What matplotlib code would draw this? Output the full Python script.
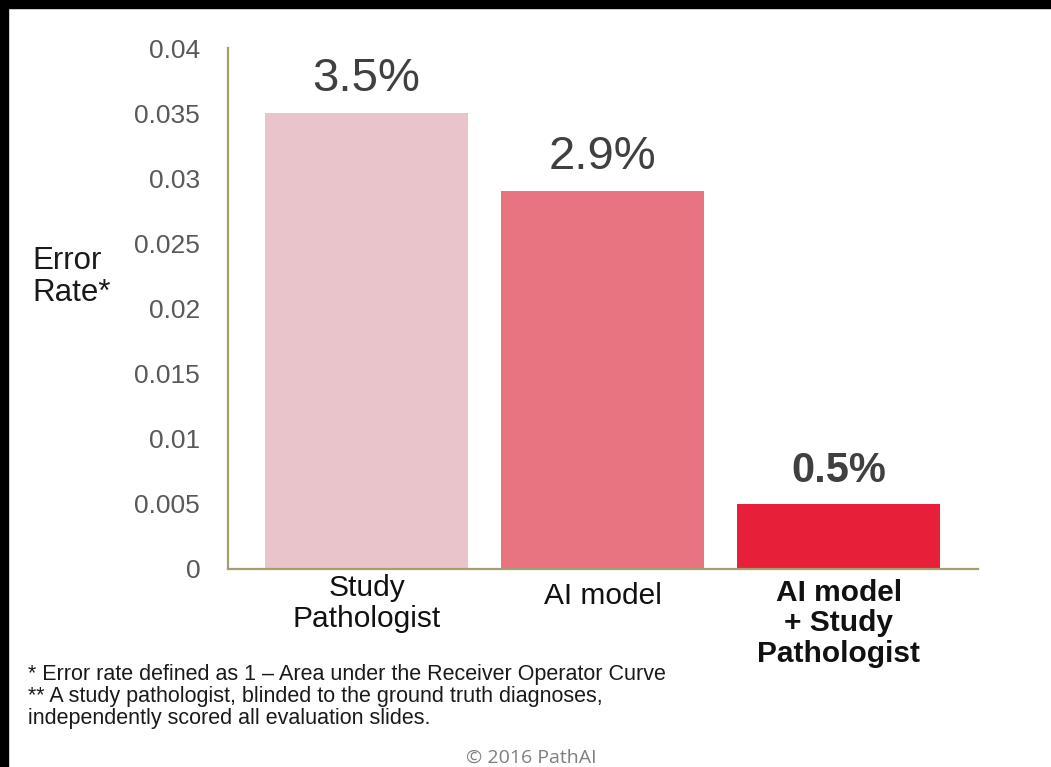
import matplotlib
matplotlib.use("Agg")
import matplotlib.pyplot as plt
import matplotlib.transforms as mtransforms
from matplotlib.patches import Rectangle

plt.rcParams['font.family'] = ['Liberation Sans', 'DejaVu Sans']

# donnees
categories = ['Study\nPathologist', 'AI model', 'AI model\n+ Study\nPathologist']
error_rates = [0.035, 0.029, 0.005]
value_labels = ['3.5%', '2.9%', '0.5%']
bar_colors = ['#E9C5CB', '#E87480', '#E81F38']
y_ticks = [0, 0.005, 0.01, 0.015, 0.02, 0.025, 0.03, 0.035, 0.04]
y_tick_labels = ['0', '0.005', '0.01', '0.015', '0.02', '0.025', '0.03', '0.035', '0.04']

fig = plt.figure(figsize=(10.51, 7.67), dpi=100)
fig.patch.set_facecolor('white')

# bande noire en haut et a gauche
fig.patches.append(Rectangle((0, 1 - 8 / 767), 1, 8 / 767, transform=fig.transFigure,
                             color='black', zorder=0))
fig.patches.append(Rectangle((0, 0), 8 / 1051, 1, transform=fig.transFigure,
                             color='black', zorder=0))

ax = fig.add_axes([228 / 1051, 1 - 569 / 767, 750 / 1051, 521 / 767])

x = list(range(len(categories)))
ax.bar(x, error_rates, width=0.86, color=bar_colors, zorder=2)

ax.set_xlim(-0.587, 2.59)
ax.set_ylim(0, 0.04)

ax.set_yticks(y_ticks)
ax.set_yticklabels(y_tick_labels, fontsize=19, color='#595959')
ax.tick_params(axis='y', length=0, pad=20)
ax.set_xticks([])

for side in ['top', 'right']:
    ax.spines[side].set_visible(False)
for side in ['left', 'bottom']:
    ax.spines[side].set_color('#A69E6C')
    ax.spines[side].set_linewidth(1.6)

# etiquettes de valeur
for i, (v, lab) in enumerate(zip(error_rates, value_labels)):
    bold = (i == 2)
    ax.annotate(lab, (i, v), xytext=(0, 9), textcoords='offset points',
                ha='center', va='bottom', fontsize=34 if not bold else 30,
                color='#404040', fontweight='bold' if bold else 'normal')

# etiquettes des categories
trans = mtransforms.blended_transform_factory(ax.transData, ax.transAxes)
label_y = [-0.0665, -0.0518, -0.1045]
for i, (cat, yy) in enumerate(zip(categories, label_y)):
    bold = (i == 2)
    ax.text(i, yy, cat, transform=trans, ha='center', va='center', fontsize=21.5,
            color='#111111', fontweight='bold' if bold else 'normal',
            linespacing=1.13)

fig.text(32 / 1051, 1 - 277 / 767, 'Error\nRate*', ha='left', va='center',
         fontsize=22.5, color='#1a1a1a', linespacing=1.08)

fig.text(28 / 1051, 1 - 664 / 767,
         '* Error rate defined as 1 \u2013 Area under the Receiver Operator Curve\n'
         '** A study pathologist, blinded to the ground truth diagnoses,\n'
         'independently scored all evaluation slides.',
         ha='left', va='top', fontsize=15.5, color='#1a1a1a', linespacing=1.05,
         family=['Liberation Sans Narrow', 'Liberation Sans'])

fig.text(531 / 1051, 1 - 758 / 767, '\u00a9 2016 PathAI', ha='center', va='center',
         fontsize=14, color='#7f7f7f', family=['Open Sans', 'DejaVu Sans'])

fig.savefig('out.png', dpi=100, facecolor=fig.get_facecolor())
